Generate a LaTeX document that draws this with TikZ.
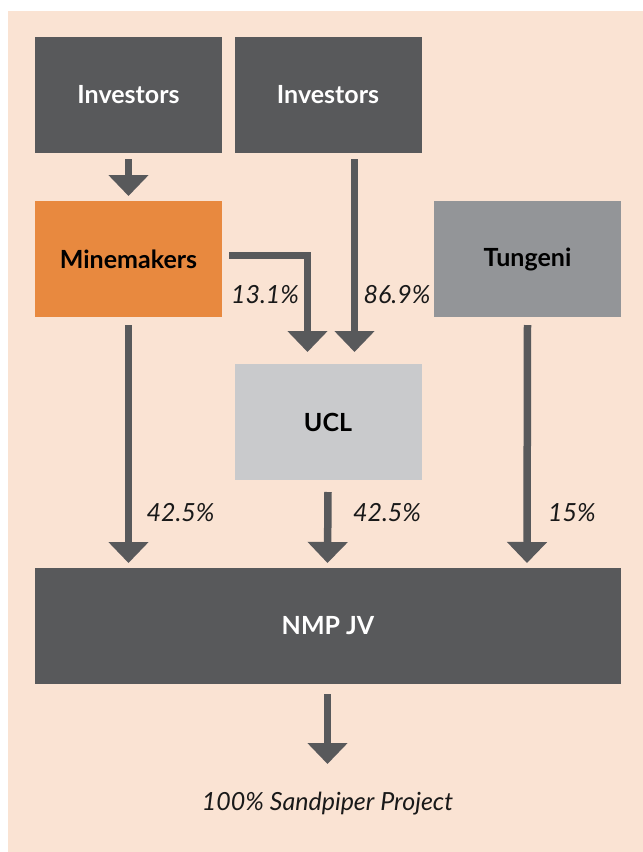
\documentclass[tikz,border=0pt]{standalone}
\usepackage{fontspec}
\setmainfont{Lato}
\usetikzlibrary{arrows.meta}
\definecolor{peach}{HTML}{FAE3D3}
\definecolor{darkbox}{HTML}{58595B}
\definecolor{orangebox}{HTML}{E8893F}
\definecolor{greybox}{HTML}{939598}
\definecolor{lightbox}{HTML}{C9CACC}
\tikzset{
  box/.style={rectangle, inner sep=0pt, outer sep=0pt, minimum width=187pt, minimum height=116pt, font=\fontsize{25}{30}\selectfont\bfseries},
  arr/.style={draw=darkbox, line width=7.5pt, -{Triangle[width=39pt,length=21pt]}},
  pct/.style={font=\fontsize{25}{30}\selectfont\itshape, text=black!90, inner sep=0pt}
}
\begin{document}
\begin{tikzpicture}[x=1pt,y=-1pt]
\useasboundingbox (0,0) rectangle (643,852);
\fill[peach] (8,11) rectangle (643,852);
\node[box, fill=darkbox, text=white] (inv1) at (128.5,95) {Investors};
\node[box, fill=darkbox, text=white] (inv2) at (328,95) {Investors};
\node[box, fill=orangebox, text=black] (mm) at (128.5,259) {Minemakers};
\node[box, fill=greybox, text=black] (tung) at (527.5,259) {Tungeni};
\node[box, fill=lightbox, text=black] (ucl) at (328,422) {UCL};
\node[box, fill=darkbox, text=white, minimum width=586pt] (nmp) at (328,626) {NMP JV};
% arrows
\draw[arr] ([yshift=-6pt]inv1.south) -- ([yshift=5pt]mm.north);
\draw[arr] ([xshift=26.5pt,yshift=-6pt]inv2.south) -- ([xshift=26.5pt,yshift=12pt]ucl.north);
\coordinate (elbowstart) at ([xshift=7pt,yshift=3.5pt]mm.east);
\coordinate (elbowend) at ([xshift=-20.5pt,yshift=12pt]ucl.north);
\draw[arr] (elbowstart) -| (elbowend);
\draw[arr] ([yshift=-8pt]mm.south) -- ([xshift=-199.5pt,yshift=5pt]nmp.north);
\draw[arr] ([yshift=-12pt]ucl.south) -- ([xshift=-0.5pt,yshift=5pt]nmp.north);
\draw[arr] ([yshift=-8pt]tung.south) -- ([xshift=199pt,yshift=5pt]nmp.north);
\coordinate (sandtop) at ([xshift=-0.5pt,yshift=-10pt]nmp.south);
\coordinate (sandtip) at ([xshift=-0.5pt,yshift=-80pt]nmp.south);
\node[pct] (sand) at (327.5,804) {100\% Sandpiper Project};
\draw[arr] (sandtop) -- (sandtip);
% labels
\node[pct] (l131) at (265,295) {13.1\%};
\node[pct] (l869) at (397,295) {86.9\%};
\node[pct] (l425a) at (180.5,512.5) {42.5\%};
\node[pct] (l425b) at (387,512.5) {42.5\%};
\node[pct] (l15) at (572,512.5) {15\%};
\end{tikzpicture}
\end{document}
